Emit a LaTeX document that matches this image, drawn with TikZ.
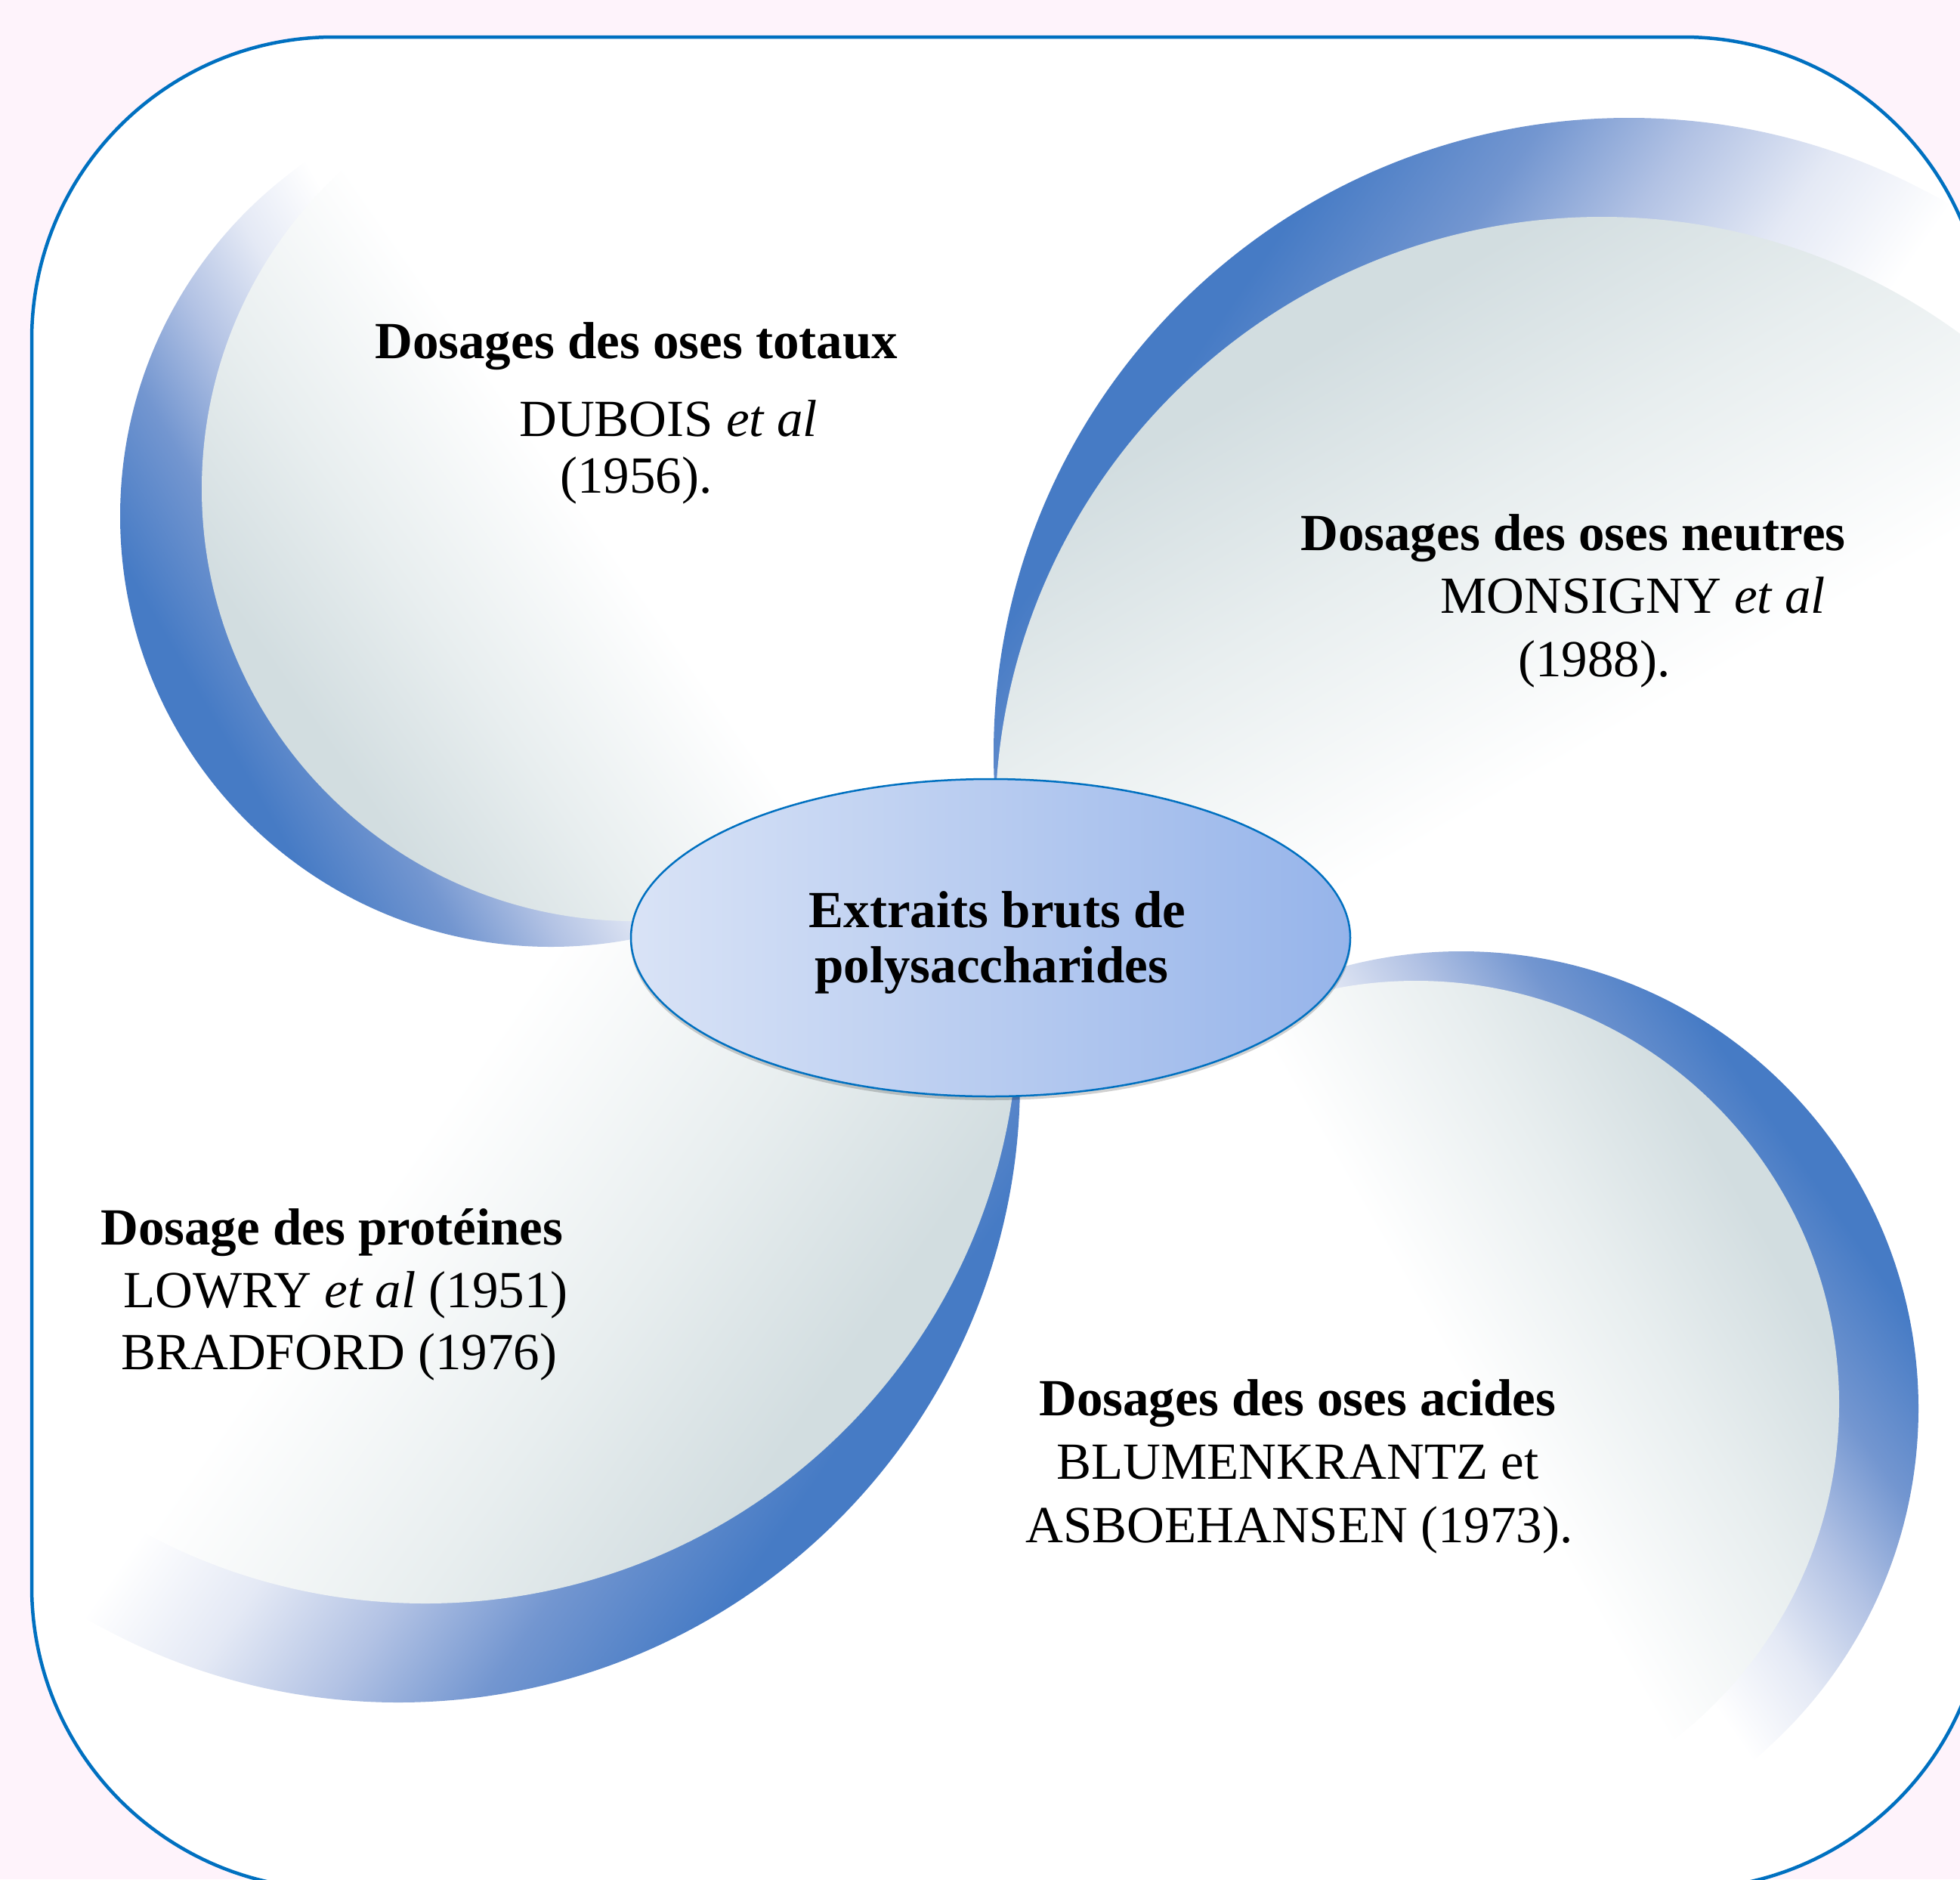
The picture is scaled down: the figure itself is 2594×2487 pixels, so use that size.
\documentclass[tikz,border=0pt]{standalone}
\usepackage{fontspec}
\setmainfont{Liberation Serif}
\usetikzlibrary{shapes.geometric}
\definecolor{bgpink}{RGB}{254,243,251}
\definecolor{frameblue}{RGB}{0,112,192}
\definecolor{bandblue}{RGB}{70,123,197}
\definecolor{bandmid}{RGB}{115,150,208}
\definecolor{bandlight}{RGB}{178,194,228}
\definecolor{bandpale}{RGB}{228,233,245}
\definecolor{discgray}{RGB}{210,221,224}
\definecolor{discmid}{RGB}{232,238,239}
\definecolor{ellL}{RGB}{217,227,246}
\definecolor{ellR}{RGB}{150,180,234}
\pgfdeclareverticalshading{bandsh}{100bp}{color(0bp)=(bandblue); color(27bp)=(bandblue); color(33bp)=(bandmid); color(38bp)=(bandlight); color(43bp)=(bandpale); color(48bp)=(white); color(100bp)=(white)}
\pgfdeclareverticalshading{discsh}{100bp}{color(0bp)=(discgray); color(27bp)=(discgray); color(36bp)=(discmid); color(47bp)=(white); color(100bp)=(white)}
\begin{document}
\begin{tikzpicture}[x=1pt,y=-1pt,
  txt/.style={anchor=base west, inner sep=0pt, font=\fontsize{69}{76}\selectfont},
  btxt/.style={txt, font=\fontsize{69}{76}\selectfont\bfseries},
  ctxt/.style={anchor=base, inner sep=0pt, font=\fontsize{69}{76}\selectfont\bfseries},
  band/.style={shading=bandsh, shading angle=#1},
  disc/.style={shading=discsh, shading angle=#1}]
\useasboundingbox (0,0) rectangle (2594,2487);
\fill[bgpink] (0,0) rectangle (2594,2487);
\fill[white, rounded corners=400pt] (42,49) rectangle (2628,2500);
\begin{scope}
  \clip[rounded corners=400pt] (42,49) rectangle (2628,2500);
  % bottom-left
  \begin{scope}
    \clip (0,1060) rectangle (2594,2487);
    \shade[band=55] (527,1430) circle[radius=823];
    \shade[disc=55] (563,1337) circle[radius=785];
  \end{scope}
  % top-left
  \shade[band=-60] (729,683) circle[radius=570];
  \shade[disc=-55] (839,647) circle[radius=572];
  % top-right
  \shade[band=-125] (2156,997) circle[radius=841];
  \shade[disc=-150] (2120,1090) circle[radius=803];
  % bottom-right
  \shade[band=125] (1934,1864) circle[radius=605];
  \shade[disc=120] (1874,1858) circle[radius=560];
\end{scope}
% central ellipse
\fill[black, opacity=0.18] (1311,1245) ellipse[x radius=477, y radius=211];
\node[ellipse, draw=frameblue, line width=2.5pt, minimum width=952pt, minimum height=420pt,
      inner sep=0pt, left color=ellL, right color=ellR] (core) at (1311,1241) {};
\node[ctxt] (core1) at (1320,1227) {Extraits bruts de};
\node[ctxt] (core2) at (1312,1300) {polysaccharides};
% top-left text
\node[btxt] (tl1) at (496,474) {Dosages des oses totaux};
\node[txt] (tl2) at (687,577) {DUBOIS \textit{et al}};
\node[txt] (tl3) at (741,652) {(1956).};
% top-right text
\node[btxt] (tr1) at (1721,728) {Dosages des oses neutres};
\node[txt] (tr2) at (1906,811) {MONSIGNY \textit{et al}};
\node[txt] (tr3) at (2009,895) {(1988).};
% bottom-right text
\node[btxt] (br1) at (1375,1873) {Dosages des oses acides};
\node[txt] (br2) at (1398,1957) {BLUMENKRANTZ et};
\node[txt] (br3) at (1357,2041) {ASBOEHANSEN (1973).};
% bottom-left text
\node[btxt] (bl1) at (133,1647) {Dosage des protéines};
\node[txt] (bl2) at (163,1730) {LOWRY \textit{et al} (1951)};
\node[txt] (bl3) at (160,1812) {BRADFORD (1976)};
% frame
\draw[frameblue, line width=4.5pt, rounded corners=400pt] (42,49) rectangle (2628,2500);
\end{tikzpicture}
\end{document}
